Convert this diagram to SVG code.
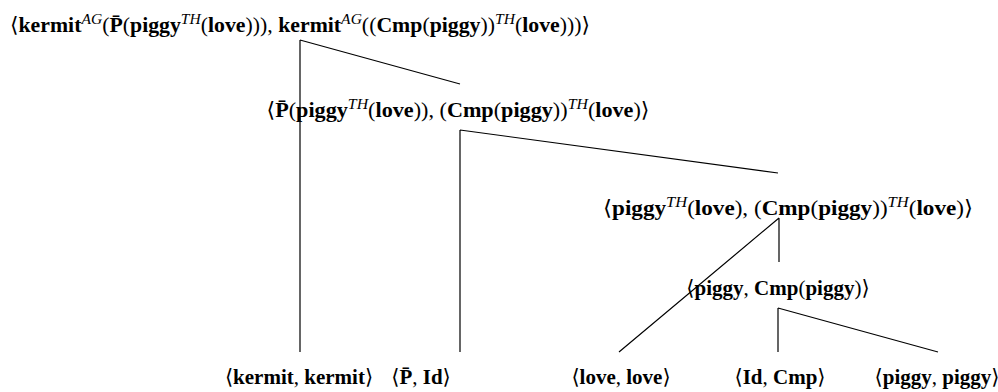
<svg xmlns="http://www.w3.org/2000/svg" width="998" height="392" viewBox="0 0 998 392">
  <style>
    .lbl { font-family: "Liberation Serif", "DejaVu Serif", serif; font-size: 21px; font-weight: bold; fill: #000; text-anchor: middle; }
    .m { font-weight: normal; }
    .s { font-style: italic; font-weight: normal; font-size: 15px; }
    .edge { stroke: #000; stroke-width: 1.2; fill: none; }
  </style>
  <rect width="998" height="392" fill="#fff"/>

  <g id="connectors">
    <path class="edge" d="M300,40 V352 M300,40 L460,84"/>
    <path class="edge" d="M460,130 V352 M460,130 L778,173"/>
    <path class="edge" d="M779,218 V262 M779,218 L619,352"/>
    <path class="edge" d="M778,308 V352 M778,308 L938,352"/>
  </g>

  <g id="root">
    <text class="lbl" x="300" y="32" textLength="580" lengthAdjust="spacingAndGlyphs"><tspan class="m">⟨</tspan>kermit<tspan class="s" dy="-8">AG</tspan><tspan class="m" dy="8">(</tspan>P̄<tspan class="m">(</tspan>piggy<tspan class="s" dy="-8">TH</tspan><tspan class="m" dy="8">(</tspan>love<tspan class="m">))), </tspan>kermit<tspan class="s" dy="-8">AG</tspan><tspan class="m" dy="8">((</tspan>Cmp<tspan class="m">(</tspan>piggy<tspan class="m">))</tspan><tspan class="s" dy="-8">TH</tspan><tspan class="m" dy="8">(</tspan>love<tspan class="m">)))⟩</tspan></text>
  </g>

  <g id="node-2">
    <text class="lbl" x="458" y="117" textLength="383" lengthAdjust="spacingAndGlyphs"><tspan class="m">⟨</tspan>P̄<tspan class="m">(</tspan>piggy<tspan class="s" dy="-8">TH</tspan><tspan class="m" dy="8">(</tspan>love<tspan class="m">)), (</tspan>Cmp<tspan class="m">(</tspan>piggy<tspan class="m">))</tspan><tspan class="s" dy="-8">TH</tspan><tspan class="m" dy="8">(</tspan>love<tspan class="m">)⟩</tspan></text>
  </g>

  <g id="node-3">
    <text class="lbl" x="788" y="215" textLength="370" lengthAdjust="spacingAndGlyphs"><tspan class="m">⟨</tspan>piggy<tspan class="s" dy="-8">TH</tspan><tspan class="m" dy="8">(</tspan>love<tspan class="m">), (</tspan>Cmp<tspan class="m">(</tspan>piggy<tspan class="m">))</tspan><tspan class="s" dy="-8">TH</tspan><tspan class="m" dy="8">(</tspan>love<tspan class="m">)⟩</tspan></text>
  </g>

  <g id="node-4">
    <text class="lbl" x="778" y="295"><tspan class="m">⟨</tspan>piggy<tspan class="m">, </tspan>Cmp<tspan class="m">(</tspan>piggy<tspan class="m">)⟩</tspan></text>
  </g>

  <g id="leaf-kermit">
    <text class="lbl" x="299" y="384"><tspan class="m">⟨</tspan>kermit<tspan class="m">, </tspan>kermit<tspan class="m">⟩</tspan></text>
  </g>
  <g id="leaf-p-id">
    <text class="lbl" x="421" y="384"><tspan class="m">⟨</tspan>P̄<tspan class="m">, </tspan>Id<tspan class="m">⟩</tspan></text>
  </g>
  <g id="leaf-love">
    <text class="lbl" x="621" y="384"><tspan class="m">⟨</tspan>love<tspan class="m">, </tspan>love<tspan class="m">⟩</tspan></text>
  </g>
  <g id="leaf-id-cmp">
    <text class="lbl" x="780" y="384"><tspan class="m">⟨</tspan>Id<tspan class="m">, </tspan>Cmp<tspan class="m">⟩</tspan></text>
  </g>
  <g id="leaf-piggy">
    <text class="lbl" x="937" y="384"><tspan class="m">⟨</tspan>piggy<tspan class="m">, </tspan>piggy<tspan class="m">⟩</tspan></text>
  </g>
</svg>
